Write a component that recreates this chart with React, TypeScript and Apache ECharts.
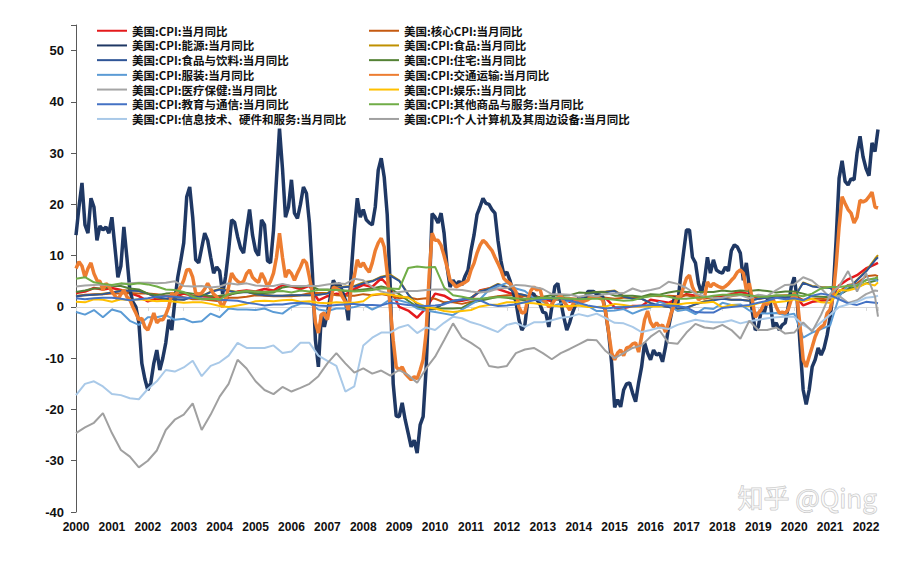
import React, { useEffect, useRef } from 'react';
import * as echarts from 'echarts';

const START_YEAR = 2000;
const END_X = 2022 + 4 / 12;

// Monthly YoY (%), Jan 2000 – May 2022
const energy = [
  14.0, 19.5, 24.2, 16.0, 14.4, 21.2, 19.5, 13.0, 15.8, 15.0, 15.6, 14.4,
  17.5, 11.7, 5.8, 8.0, 15.6, 9.7, 3.3, 1.0, 0.0, -3.0, -11.0, -14.0,
  -16.2, -14.8, -11.0, -8.4, -12.3, -10.0, -7.0, -2.5, -4.5, 1.0, 5.8, 9.0,
  12.5, 21.5, 23.4, 17.5, 9.2, 8.6, 11.5, 14.4, 13.0, 9.7, 6.6, 7.8,
  7.0, 2.5, 6.0, 11.0, 17.0, 16.5, 13.7, 11.5, 10.5, 15.0, 19.0, 14.0,
  11.0, 10.0, 17.0, 16.0, 9.0, 8.6, 15.0, 25.0, 34.8, 27.0, 17.5, 19.5,
  24.8, 18.3, 17.3, 20.0, 23.4, 22.2, 16.4, 6.6, -6.4, -11.7, -1.5, -3.9,
  -1.2, 2.0, 5.2, 4.0, 4.6, 3.0, 1.4, -2.6, 7.0, 15.0, 21.2, 17.5,
  19.0, 17.0, 16.4, 16.0, 19.5, 26.7, 29.0, 25.3, 18.0, 4.0, -15.0, -21.3,
  -21.4, -18.7, -22.0, -24.6, -27.3, -26.0, -28.5, -23.0, -21.4, -12.0, 2.0, 18.2,
  17.5, 16.4, 18.3, 14.4, 7.8, 3.9, 5.2, 4.3, 5.0, 4.3, 6.0, 7.2,
  11.0, 14.0, 18.0, 19.5, 21.2, 20.2, 20.0, 19.0, 18.3, 13.0, 9.0, 6.2,
  6.8, 5.2, 3.0, 1.0, -2.5, -4.5, -3.5, 1.4, 2.7, 2.5, 1.4, 0.6,
  -1.0, -1.2, -3.9, 0.0, 4.0, 4.6, 1.0, -2.0, -4.5, -3.0, -1.0, 0.5,
  1.8, 1.0, 1.4, 3.0, 3.0, 3.0, 2.5, 2.3, 2.0, -1.2, -5.1, -11.0,
  -19.6, -18.1, -19.5, -16.2, -15.0, -14.8, -16.8, -18.5, -14.8, -11.7, -7.0, -9.0,
  -10.3, -8.4, -9.4, -9.0, -10.7, -7.8, -4.0, -1.2, 2.0, 0.0, 5.8, 10.5,
  15.0, 15.0, 9.7, 8.6, 4.6, 2.7, 5.2, 9.7, 6.6, 9.2, 7.2, 6.8,
  6.6, 7.8, 7.0, 11.0, 12.1, 11.7, 10.5, 5.2, 8.6, 3.9, -1.0, -4.5,
  -3.9, -0.6, -1.2, 1.4, 1.0, -3.9, -3.1, -4.5, -3.5, -3.1, 0.0, 3.9,
  5.8, 1.4, -7.8, -16.2, -19.0, -16.2, -11.7, -10.3, -8.0, -9.4, -8.0, -5.5,
  -2.0, 2.7, 13.0, 25.1, 28.5, 24.5, 23.8, 25.0, 24.8, 30.0, 33.3, 29.3,
  27.0, 25.6, 32.0, 30.3, 34.6,
];

const transport = [
  7.5, 8.8, 8.0, 5.8, 7.5, 8.6, 6.5, 5.2, 5.0, 3.3, 4.6, 4.0,
  3.0, 2.2, 1.4, 2.5, 3.3, 2.0, 1.4, 0.0, -1.2, -2.5, -2.2, -3.9,
  -4.5, -3.0, -1.2, -3.1, -2.5, -2.5, -1.5, 0.0, 2.7, 2.2, 3.0, 3.9,
  5.2, 7.2, 7.3, 5.8, 2.7, 2.5, 2.7, 3.5, 4.6, 3.5, 2.5, 2.0,
  1.0, 0.0, 1.4, 3.9, 6.6, 5.6, 5.0, 4.6, 5.0, 6.5, 7.2, 5.8,
  5.2, 4.8, 6.6, 5.5, 3.9, 5.0, 6.6, 9.7, 14.4, 9.7, 5.8, 7.2,
  6.5, 5.2, 6.6, 7.8, 9.2, 8.6, 5.8, 2.7, -3.0, -5.1, -1.5, -1.2,
  -2.5, 0.5, 3.9, 3.6, 3.3, 2.0, 1.0, -0.6, 3.9, 6.0, 9.2, 7.8,
  8.6, 7.5, 6.8, 8.6, 11.0, 12.5, 13.4, 11.7, 6.6, 0.0, -6.5, -11.7,
  -12.3, -11.7, -13.0, -13.6, -14.2, -13.6, -14.0, -12.3, -10.3, -5.0, 6.0, 14.4,
  13.0, 13.0, 12.0, 10.0, 7.8, 5.2, 4.6, 3.9, 4.2, 4.5, 4.8, 5.2,
  7.2, 8.5, 10.5, 12.0, 13.0, 12.5, 11.7, 11.0, 9.7, 8.5, 7.2, 5.5,
  5.0, 4.6, 3.8, 3.0, 0.0, -1.2, -1.0, 1.5, 3.2, 3.9, 3.3, 3.6,
  1.4, 1.0, 0.0, 0.5, 1.4, 1.8, 2.3, 1.0, 0.3, -0.6, 0.5, 1.4,
  1.0, 1.0, 1.2, 1.4, 1.8, 2.0, 2.0, 1.7, 1.4, -1.0, -5.0, -9.0,
  -10.3, -9.0, -8.4, -9.5, -8.0, -7.8, -7.2, -7.0, -8.8, -5.8, -2.5, -0.8,
  -3.0, -3.9, -3.1, -3.9, -3.5, -4.9, -3.1, -1.0, 0.5, 2.0, 2.0, 3.9,
  5.6, 6.2, 3.9, 2.7, 1.4, 1.8, 1.8, 4.9, 3.9, 4.6, 4.2, 3.9,
  3.7, 4.0, 4.5, 5.2, 5.8, 6.8, 7.2, 6.6, 3.3, 4.6, 1.4, -2.0,
  -1.2, -0.5, 0.8, 0.5, 1.2, 1.4, 0.0, -1.2, -1.0, -1.2, -0.5, 1.4,
  2.7, 1.5, -4.0, -10.3, -11.7, -9.7, -7.8, -5.8, -4.5, -3.9, -3.5, -1.2,
  -0.5, 2.0, 8.0, 15.6, 21.5, 20.2, 19.0, 18.3, 16.4, 17.5, 20.8, 20.5,
  20.8, 21.5, 22.4, 19.5, 19.3,
];

// Quarterly readings (Jan/Apr/Jul/Oct 2000 – Apr 2022) plus May 2022
const cpi = [
  2.7, 3.0, 3.7, 3.4, 3.7, 3.3, 2.7, 2.1, 1.1, 1.6, 1.5, 2.0,
  2.6, 2.2, 2.1, 2.0, 1.9, 2.3, 3.0, 3.2, 3.0, 3.5, 3.2, 4.3,
  4.0, 3.5, 4.1, 1.3, 2.1, 2.6, 2.4, 3.5, 4.3, 3.9, 5.6, 3.7,
  0.0, -0.7, -2.1, -0.2, 2.6, 2.2, 1.2, 1.2, 1.6, 3.2, 3.6, 3.5,
  2.9, 2.3, 1.4, 2.2, 1.6, 1.1, 2.0, 1.0, 1.6, 2.0, 2.0, 1.7,
  -0.1, -0.2, 0.2, 0.2, 1.4, 1.1, 0.8, 1.6, 2.5, 2.2, 1.7, 2.0,
  2.1, 2.5, 2.9, 2.5, 1.6, 2.0, 1.8, 1.8, 2.5, 0.3, 1.0, 1.2,
  1.4, 4.2, 5.4, 6.2, 7.5, 8.3, 8.6,
];
const coreCpi = [
  2.0, 2.4, 2.5, 2.5, 2.6, 2.6, 2.7, 2.6, 2.6, 2.5, 2.2, 2.2,
  1.9, 1.5, 1.5, 1.3, 1.1, 1.8, 1.8, 2.0, 2.3, 2.2, 2.1, 2.1,
  2.1, 2.3, 2.7, 2.7, 2.7, 2.3, 2.2, 2.2, 2.5, 2.3, 2.5, 2.2,
  1.7, 1.9, 1.5, 1.7, 1.6, 0.9, 0.9, 0.6, 1.0, 1.3, 1.8, 2.1,
  2.3, 2.3, 2.1, 2.0, 1.9, 1.7, 1.7, 1.7, 1.6, 1.8, 1.9, 1.8,
  1.6, 1.8, 1.8, 1.9, 2.2, 2.1, 2.2, 2.1, 2.3, 1.9, 1.7, 1.8,
  1.8, 2.1, 2.4, 2.1, 2.2, 2.1, 2.2, 2.3, 2.3, 1.4, 1.6, 1.6,
  1.4, 3.0, 4.3, 4.6, 6.0, 6.2, 6.0,
];
const food = [
  2.2, 2.3, 2.4, 2.6, 2.8, 3.2, 3.2, 3.2, 2.6, 1.8, 1.5, 1.5,
  1.4, 2.1, 2.1, 3.0, 3.5, 3.2, 2.9, 3.0, 2.5, 2.4, 2.2, 2.2,
  2.3, 2.3, 2.3, 2.4, 2.7, 3.8, 4.0, 4.1, 4.8, 5.1, 5.9, 6.3,
  5.2, 2.5, 0.4, -0.6, -0.4, 0.7, 1.2, 1.4, 1.8, 3.1, 3.6, 4.5,
  3.9, 2.7, 2.3, 1.7, 1.6, 1.5, 1.4, 1.3, 1.4, 2.6, 2.9, 3.0,
  3.2, 2.1, 1.6, 1.6, 0.7, 0.2, 0.0, -0.4, -0.2, 0.5, 1.1, 1.4,
  1.7, 1.4, 1.4, 1.2, 1.6, 1.8, 1.8, 2.0, 1.8, 4.8, 4.1, 3.9,
  3.8, 2.4, 3.4, 5.3, 7.0, 9.4, 10.1,
];
const foodBeverage = [
  2.1, 2.3, 2.4, 2.5, 2.8, 3.1, 3.2, 3.1, 2.6, 1.9, 1.6, 1.5,
  1.4, 2.0, 2.1, 2.9, 3.4, 3.1, 2.8, 2.9, 2.5, 2.3, 2.2, 2.2,
  2.3, 2.3, 2.3, 2.4, 2.6, 3.7, 3.9, 4.0, 4.6, 5.0, 5.8, 6.1,
  5.1, 2.4, 0.5, -0.4, -0.3, 0.7, 1.1, 1.4, 1.8, 3.0, 3.5, 4.4,
  3.8, 2.7, 2.3, 1.7, 1.6, 1.5, 1.4, 1.3, 1.4, 2.5, 2.8, 2.9,
  3.1, 2.0, 1.6, 1.6, 0.8, 0.3, 0.0, -0.3, -0.1, 0.5, 1.0, 1.3,
  1.6, 1.4, 1.4, 1.2, 1.6, 1.8, 1.8, 2.0, 1.8, 4.7, 4.0, 3.8,
  3.7, 2.4, 3.4, 5.2, 6.9, 9.1, 9.7,
];
const housing = [
  2.9, 3.2, 3.6, 3.6, 4.1, 4.1, 3.6, 3.4, 2.6, 2.3, 2.6, 2.7,
  2.8, 2.6, 2.4, 2.1, 2.2, 2.4, 2.7, 3.0, 2.6, 2.7, 2.8, 3.8,
  4.1, 3.9, 4.2, 3.4, 3.4, 3.3, 3.1, 3.2, 3.4, 3.6, 4.0, 3.6,
  2.5, 1.2, 0.0, -0.2, -0.3, -0.3, -0.3, -0.2, 0.8, 1.2, 1.6, 2.0,
  1.8, 1.5, 1.3, 1.8, 2.0, 2.3, 2.2, 2.3, 2.8, 2.7, 2.9, 2.8,
  2.2, 2.2, 2.2, 2.0, 2.5, 2.4, 2.8, 3.1, 2.9, 2.9, 2.9, 2.9,
  3.2, 3.0, 3.2, 3.1, 3.3, 3.1, 2.8, 3.0, 3.0, 2.6, 2.1, 2.0,
  1.9, 2.4, 3.5, 3.9, 4.6, 5.1, 5.5,
];
const apparel = [
  -1.0, -1.5, -0.6, -2.0, -0.5, -1.0, -2.7, -3.5, -2.0, -2.0, -1.6, -2.5,
  -2.3, -3.0, -2.8, -1.3, -2.0, -0.3, -0.5, -0.5, -0.6, -0.3, -1.0, -1.3,
  0.0, 0.6, 0.7, -0.5, -0.8, -0.3, -0.3, 0.0, 0.5, -0.5, 0.3, 1.5,
  1.3, 0.8, -0.3, -0.7, -1.0, -1.3, -1.6, -0.5, 0.5, 1.5, 3.3, 4.0,
  4.7, 3.6, 3.1, 1.7, 1.0, 0.1, 0.7, 1.2, 0.4, 0.2, -0.8, -0.8,
  -0.7, -0.4, -1.3, -0.6, -0.1, 1.0, 0.4, -0.8, -0.5, -1.4, -0.2, -0.4,
  0.8, 0.4, 0.5, -0.7, -1.2, -1.3, -1.2, -1.6, -1.3, -6.0, -5.0, -4.3,
  -3.6, 2.0, 4.2, 4.3, 5.3, 5.4, 5.0,
];
const medical = [
  4.0, 4.2, 4.3, 4.4, 4.2, 4.5, 4.6, 4.7, 4.7, 4.6, 4.7, 5.0,
  4.1, 4.0, 4.1, 3.8, 4.0, 4.6, 4.4, 4.6, 4.2, 4.1, 4.1, 4.5,
  4.1, 4.1, 4.1, 4.1, 4.4, 4.6, 4.5, 5.5, 5.2, 3.9, 3.0, 2.6,
  2.9, 3.1, 3.1, 3.3, 3.4, 3.4, 3.4, 3.3, 3.0, 2.8, 3.0, 3.6,
  3.7, 4.3, 4.2, 3.9, 3.5, 2.5, 2.5, 2.4, 2.0, 2.3, 2.1, 2.5,
  2.6, 2.7, 3.6, 3.0, 3.3, 3.7, 4.9, 4.5, 3.7, 2.6, 2.1, 1.7,
  1.8, 2.2, 2.3, 1.7, 2.4, 2.1, 3.3, 4.3, 4.4, 5.8, 5.1, 3.6,
  1.8, 2.2, 0.8, 1.3, 2.5, 3.2, 3.1,
];
const recreation = [
  1.0, 0.9, 1.5, 1.4, 1.0, 1.5, 1.3, 1.5, 1.3, 1.1, 1.2, 1.0,
  0.8, 0.9, 0.9, 0.6, 0.2, 0.0, 0.3, 0.6, 1.1, 1.2, 1.1, 1.3,
  1.4, 1.0, 1.1, 0.8, 0.7, 0.9, 0.8, 0.8, 1.1, 2.4, 2.6, 2.4,
  2.1, 1.8, 0.8, 0.0, -0.3, -0.8, -1.0, -0.8, -0.6, 0.1, 0.4, 0.5,
  0.9, 0.9, 0.8, 0.7, 0.5, 0.3, 0.1, 0.2, 0.3, 0.0, 0.0, 0.1,
  0.6, 0.4, 0.1, 0.1, 0.1, 0.1, 0.6, 0.5, 0.7, 0.8, 0.8, 1.0,
  -0.1, 0.4, 0.2, 0.2, 0.7, 1.1, 0.9, 1.1, 1.5, 1.1, 1.6, 0.9,
  0.8, 3.3, 3.2, 3.7, 4.6, 4.2, 4.8,
];
const eduComm = [
  1.7, 1.5, 1.7, 1.8, 1.8, 1.6, 1.3, 1.5, 1.7, 2.0, 2.1, 2.0,
  1.8, 1.8, 1.6, 1.6, 1.4, 1.3, 1.2, 0.8, 0.6, 0.3, 0.5, 0.5,
  0.7, 0.8, 0.6, 0.3, 0.2, 0.4, 0.5, 0.6, 0.4, 0.4, 0.3, 0.8,
  0.6, 0.4, 0.3, 0.2, 0.3, 0.5, 1.2, 1.5, 1.5, 1.3, 0.5, 0.2,
  0.3, 0.5, 0.9, 1.3, 1.5, 1.7, 1.7, 1.2, 0.8, 0.3, 0.0, -0.3,
  -0.1, 0.0, 0.1, 0.3, 0.4, 0.4, 0.3, 0.2, -0.1, -1.0, -1.1, -1.1,
  -0.2, 0.0, 0.2, 0.4, 0.8, 1.2, 1.8, 1.5, 1.7, 1.3, 2.2, 2.6,
  2.3, 1.5, 0.7, 0.4, 1.0, 0.8, 0.7,
];
const otherGoods = [
  5.5, 5.8, 4.8, 4.5, 4.3, 4.6, 4.4, 4.6, 4.4, 4.0, 3.4, 3.3,
  2.9, 2.0, 1.5, 1.6, 1.5, 2.5, 2.9, 3.1, 3.0, 2.9, 3.0, 3.1,
  2.8, 3.2, 3.0, 3.3, 3.3, 3.3, 3.2, 3.0, 3.1, 3.3, 3.6, 3.6,
  3.5, 7.6, 7.9, 7.7, 7.8, 3.8, 2.3, 2.0, 1.6, 1.6, 1.8, 1.9,
  1.9, 1.7, 1.6, 1.6, 1.8, 1.7, 1.7, 1.6, 1.5, 1.6, 1.6, 1.6,
  1.4, 1.2, 1.3, 1.8, 2.1, 2.3, 2.0, 1.6, 1.6, 1.8, 1.9, 2.2,
  2.4, 2.4, 2.5, 2.3, 2.0, 2.0, 2.3, 2.2, 2.4, 2.1, 2.6, 3.6,
  3.9, 3.9, 4.1, 4.2, 5.2, 5.6, 5.8,
];
const infoTech = [
  -17.2, -15.0, -14.5, -15.5, -17.0, -17.2, -17.8, -18.0, -16.0, -14.5, -12.3, -12.6,
  -11.8, -10.5, -13.5, -11.5, -10.8, -9.5, -7.0, -8.0, -8.0, -8.0, -7.5, -9.0,
  -8.7, -7.0, -7.0, -9.5, -10.5, -11.5, -16.5, -15.5, -7.5, -6.0, -5.0, -5.0,
  -4.0, -3.5, -5.1, -4.0, -4.5, -3.1, -1.9, -2.2, -3.0, -3.5, -4.2, -4.9,
  -3.5, -3.1, -3.9, -3.0, -3.0, -2.6, -2.1, -1.9, -1.4, -1.8, -1.3, -2.2,
  -3.1, -3.2, -3.9, -4.9, -4.5, -4.0, -4.3, -3.5, -3.0, -2.5, -2.8, -3.0,
  -3.0, -2.6, -3.2, -2.8, -2.5, -2.2, -2.0, -1.9, -1.9, -3.5, -4.5, -3.0,
  -1.5, 0.0, 0.5, 1.0, 1.8, 2.0, 2.2,
];
const personalComputer = [
  -24.6, -23.5, -22.6, -20.7, -24.6, -27.9, -29.2, -31.3, -30.0, -28.0, -24.0, -22.0,
  -21.0, -18.8, -24.0, -21.0, -17.5, -15.0, -10.3, -12.0, -14.5, -16.2, -17.0, -15.6,
  -16.5, -15.8, -15.0, -13.5, -11.0, -9.0, -11.0, -12.8, -12.0, -13.0, -12.4, -13.4,
  -12.3, -13.3, -14.8, -12.0, -9.7, -6.5, -3.2, -6.0, -7.0, -8.2, -11.5, -11.8,
  -11.5, -9.0, -8.3, -8.0, -9.0, -10.2, -9.0, -8.2, -7.3, -6.4, -6.5, -8.6,
  -10.0, -9.0, -8.0, -7.5, -5.8, -4.6, -7.0, -7.2, -5.0, -3.3, -4.0, -4.2,
  -3.5, -4.5, -6.2, -2.7, -4.5, -4.5, -4.0, -5.2, -5.0, -3.0, -4.8, -1.5,
  2.5, 4.0, 7.0, 3.0, 6.6, 2.0, -1.9,
];

const yTicks = [-40, -30, -20, -10, 0, 10, 20, 30, 40, 50];

const monthly = (vals: number[]) => vals.map((v, i) => [START_YEAR + i / 12, v]);
const quarterly = (vals: number[]) =>
  vals.map((v, i) => [i < 90 ? START_YEAR + i * 0.25 : END_X, v]);

const N = {
  cpi: '美国:CPI:当月同比',
  core: '美国:核心CPI:当月同比',
  energy: '美国:CPI:能源:当月同比',
  food: '美国:CPI:食品:当月同比',
  foodBev: '美国:CPI:食品与饮料:当月同比',
  housing: '美国:CPI:住宅:当月同比',
  apparel: '美国:CPI:服装:当月同比',
  transport: '美国:CPI:交通运输:当月同比',
  medical: '美国:CPI:医疗保健:当月同比',
  recreation: '美国:CPI:娱乐:当月同比',
  edu: '美国:CPI:教育与通信:当月同比',
  other: '美国:CPI:其他商品与服务:当月同比',
  it: '美国:CPI:信息技术、硬件和服务:当月同比',
  pc: '美国:CPI:个人计算机及其周边设备:当月同比',
};

const seriesDefs = [
  { name: N.cpi, data: quarterly(cpi), color: '#E41A1C', width: 2.5 },
  { name: N.core, data: quarterly(coreCpi), color: '#C55A11', width: 2 },
  { name: N.energy, data: monthly(energy), color: '#1F3864', width: 3.5 },
  { name: N.food, data: quarterly(food), color: '#BF9000', width: 2 },
  { name: N.foodBev, data: quarterly(foodBeverage), color: '#2F5597', width: 2 },
  { name: N.housing, data: quarterly(housing), color: '#548235', width: 2 },
  { name: N.apparel, data: quarterly(apparel), color: '#5B9BD5', width: 2 },
  { name: N.transport, data: monthly(transport), color: '#ED7D31', width: 3.5 },
  { name: N.medical, data: quarterly(medical), color: '#A5A5A5', width: 2 },
  { name: N.recreation, data: quarterly(recreation), color: '#FFC000', width: 2 },
  { name: N.edu, data: quarterly(eduComm), color: '#4472C4', width: 2 },
  { name: N.other, data: quarterly(otherGoods), color: '#70AD47', width: 2 },
  { name: N.it, data: quarterly(infoTech), color: '#A9C9E8', width: 2 },
  { name: N.pc, data: quarterly(personalComputer), color: '#A0A0A0', width: 2 },
];

const legendLeft = [N.cpi, N.energy, N.foodBev, N.apparel, N.medical, N.edu, N.it];
const legendRight = [N.core, N.food, N.housing, N.transport, N.recreation, N.other, N.pc];

const isInt = (v: number) => Math.abs(v - Math.round(v)) < 1e-6;

export default function App() {
  const ref = useRef<HTMLDivElement>(null);
  useEffect(() => {
    document.body.style.margin = '0';
    if (!ref.current) return;
    const chart = echarts.init(ref.current, undefined, { renderer: 'svg' });
    const legendCommon = {
      orient: 'vertical' as const,
      top: 25,
      padding: 0,
      itemWidth: 30,
      itemHeight: 14,
      itemGap: 3.2,
      selectedMode: false,
      itemStyle: { opacity: 0 },
      textStyle: {
        fontSize: 11.5,
        fontWeight: 'bold' as const,
        color: '#111',
        fontFamily: "'Noto Sans CJK SC', sans-serif",
      },
    };
    chart.setOption({
      animation: false,
      backgroundColor: '#ffffff',
      textStyle: { fontFamily: "'Liberation Sans', 'Noto Sans CJK SC', sans-serif" },
      grid: { left: 76, right: 29, top: 25, bottom: 51, containLabel: false },
      legend: [
        { ...legendCommon, left: 96, data: legendLeft },
        { ...legendCommon, left: 368, data: legendRight },
      ],
      xAxis: [
        {
          type: 'value',
          min: START_YEAR,
          max: END_X,
          interval: 1,
          axisLine: { show: true, onZero: true, lineStyle: { color: '#D9D9D9', width: 1 } },
          axisTick: { show: true, length: 4, lineStyle: { color: '#D9D9D9' } },
          axisLabel: { show: false },
          splitLine: { show: false },
        },
        {
          type: 'value',
          position: 'bottom',
          min: START_YEAR,
          max: END_X,
          interval: 1,
          axisLine: { show: false, onZero: false },
          axisTick: { show: false },
          splitLine: { show: false },
          axisLabel: {
            margin: 9,
            fontSize: 12,
            fontWeight: 'bold',
            color: '#111',
            formatter: (v: number) => (isInt(v) ? String(Math.round(v)) : ''),
          },
        },
      ],
      yAxis: {
        type: 'value',
        min: -40,
        max: 55,
        interval: 10,
        axisLine: { show: true, lineStyle: { color: '#595959', width: 1 } },
        axisTick: { show: true, length: 5, lineStyle: { color: '#595959' } },
        splitLine: { show: false },
        axisLabel: {
          margin: 12,
          fontSize: 13,
          fontWeight: 'bold',
          color: '#111',
          formatter: (v: number) => (yTicks.includes(v) ? String(v) : ''),
        },
      },
      graphic: [
        {
          type: 'text',
          left: 737,
          top: 483,
          z: 100,
          silent: true,
          style: {
            text: '知乎 @Qing',
            fontSize: 26,
            fontFamily: "'Noto Sans CJK SC', sans-serif",
            fill: 'rgba(255,255,255,0.45)',
            stroke: 'rgba(150,150,150,0.55)',
            lineWidth: 1,
          },
        },
      ],
      series: seriesDefs.map((s) => ({
        type: 'line',
        name: s.name,
        xAxisIndex: 0,
        data: s.data,
        symbol: 'none',
        showSymbol: false,
        color: s.color,
        lineStyle: { color: s.color, width: s.width },
        emphasis: { disabled: true },
      })),
    });
    return () => chart.dispose();
  }, []);
  return <div ref={ref} style={{ width: 907, height: 563 }} />;
}
